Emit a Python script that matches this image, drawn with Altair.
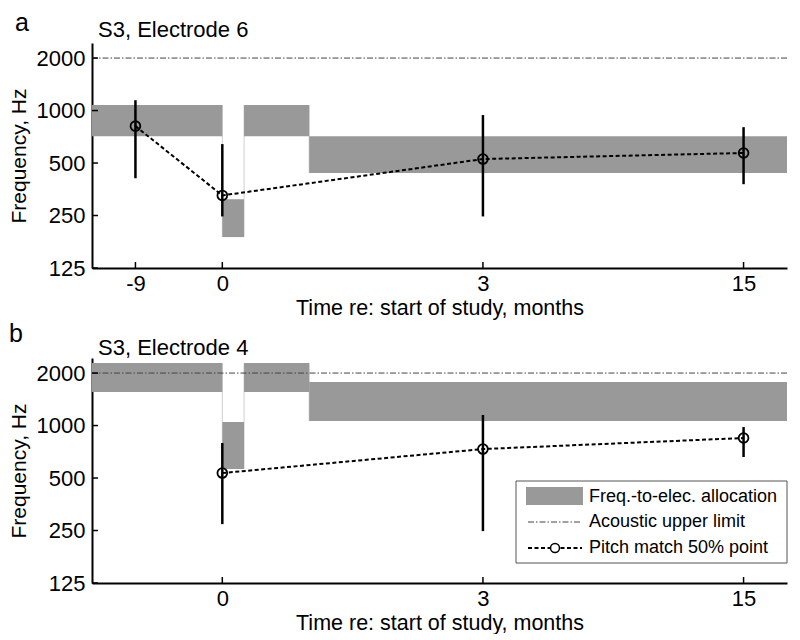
import altair as alt
import pandas as pd

# ---------------- data ----------------
# visits (months re: start of study) and the slot each one occupies on the x axis
visit_months = [-9, 0, 3, 15]
visit_slots = [0, 1, 4, 7]
x_domain = [-0.5, 7.5]
y_domain = [125, 2440]
y_ticks = [125, 250, 500, 1000, 2000]

# frequency-to-electrode allocation segments (x in slot units)
seg_start = [-0.5, 1.0, 1.25, 2.0]
seg_end = [1.0, 1.25, 2.0, 7.5]
a_alloc_lo = [713, 188, 713, 438]
a_alloc_hi = [1076, 310, 1076, 713]
b_alloc_lo = [1556, 563, 1556, 1061]
b_alloc_hi = [2282, 1047, 2282, 1775]

acoustic_limit = 2000

# pitch match 50% points with ranges
a_months = [-9, 0, 3, 15]
a_pitch = [814, 326, 527, 571]
a_err_lo = [409, 247, 247, 378]
a_err_hi = [1146, 642, 942, 803]

b_months = [0, 3, 15]
b_pitch = [534, 733, 848]
b_err_lo = [272, 248, 660]
b_err_hi = [794, 1149, 980]

legend_labels = ["Freq.-to-elec. allocation", "Acoustic upper limit", "Pitch match 50% point"]

# ---------------- style ----------------
W, H = 695, 225
GRAY = "#999999"
FONT = "Liberation Sans"
slot_of = dict(zip(visit_months, visit_slots))


def panel(letter, title, lo, hi, months, pitch, elo, ehi, tick_months, legend,
          letter_xy, title_xy):
    xs = alt.Scale(domain=x_domain, nice=False, zero=False)
    ys = alt.Scale(type="log", domain=y_domain, nice=False)
    tick_slots = [slot_of[m] for m in tick_months]
    label_expr = " : ".join(
        f"datum.value == {slot_of[m]} ? '{m}'" for m in tick_months) + " : ''"
    xaxis = alt.Axis(values=tick_slots, labelExpr=label_expr,
                     title="Time re: start of study, months",
                     grid=False, ticks=False, tickSize=0, domainWidth=2,
                     domainColor="black", labelPadding=5, titlePadding=3,
                     labelFontSize=22, titleFontSize=21.5, labelFlush=False,
                     labelOverlap=False)
    yaxis = alt.Axis(values=y_ticks, format="d", title="Frequency, Hz",
                     grid=False, ticks=False, tickSize=0, domainWidth=2,
                     domainColor="black", labelPadding=7, titlePadding=7,
                     labelFontSize=22, titleFontSize=21, labelOverlap=False)

    def X(f):
        return alt.X(f, type="quantitative", scale=xs, axis=xaxis)

    def Y(f):
        return alt.Y(f, type="quantitative", scale=ys, axis=yaxis)

    segdf = pd.DataFrame({"x": seg_start, "x2": seg_end, "lo": lo, "hi": hi})
    conn = pd.DataFrame({
        "x": seg_end[:-1],
        "lo": [min(lo[i], lo[i + 1]) for i in range(len(lo) - 1)],
        "hi": [max(hi[i], hi[i + 1]) for i in range(len(hi) - 1)],
    })
    pdf = pd.DataFrame({"slot": [slot_of[m] for m in months], "f": pitch,
                        "lo": elo, "hi": ehi})

    layers = [
        alt.Chart(conn).mark_rule(color="#cfcfcf", strokeWidth=1).encode(
            x=X("x"), y=Y("lo"), y2="hi"),
        alt.Chart(segdf).mark_rect(color=GRAY).encode(
            x=X("x"), x2="x2", y=Y("lo"), y2="hi"),
        alt.Chart(pd.DataFrame({"f": [acoustic_limit]})).mark_rule(
            color="#444444", strokeWidth=1, strokeDash=[6, 2, 1.5, 2]).encode(y=Y("f")),
        alt.Chart(pdf).mark_line(color="black", strokeWidth=2,
                                 strokeDash=[4, 2.5]).encode(x=X("slot"), y=Y("f")),
        alt.Chart(pdf).mark_rule(color="black", strokeWidth=2.5).encode(
            x=X("slot"), y=Y("lo"), y2="hi"),
        alt.Chart(pdf).mark_point(shape="circle", filled=False, color="black",
                                  size=95, strokeWidth=1.8, opacity=1).encode(
            x=X("slot"), y=Y("f")),
        alt.Chart(pd.DataFrame({"slot": tick_slots})).mark_rule(
            color="black", strokeWidth=1.5).encode(
            x=X("slot"), y=alt.value(H), y2=alt.value(H - 6)),
        alt.Chart(pd.DataFrame({"f": y_ticks})).mark_rule(
            color="black", strokeWidth=1.5).encode(
            y=Y("f"), x=alt.value(0), x2=alt.value(6)),
        alt.Chart(pd.DataFrame({"t": [letter]})).mark_text(
            align="left", baseline="alphabetic", fontSize=25, color="black").encode(
            text="t:N", x=alt.value(letter_xy[0]), y=alt.value(letter_xy[1])),
        alt.Chart(pd.DataFrame({"t": [title]})).mark_text(
            align="left", baseline="alphabetic", fontSize=22, color="black").encode(
            text="t:N", x=alt.value(title_xy[0]), y=alt.value(title_xy[1])),
    ]

    if legend:
        one = pd.DataFrame({"k": [0]})
        bx0, bx1, by0, by1 = W - 271, W, H - 102, H - 20
        layers += [
            alt.Chart(one).mark_rect(fill="white", stroke="#555555", strokeWidth=1).encode(
                x=alt.value(bx0), x2=alt.value(bx1), y=alt.value(by0), y2=alt.value(by1)),
            alt.Chart(one).mark_rect(fill=GRAY).encode(
                x=alt.value(bx0 + 10), x2=alt.value(bx0 + 67),
                y=alt.value(by0 + 6), y2=alt.value(by0 + 24)),
            alt.Chart(one).mark_rule(color="#444444", strokeWidth=1,
                                     strokeDash=[6, 2, 1.5, 2]).encode(
                x=alt.value(bx0 + 12), x2=alt.value(bx0 + 66), y=alt.value(by0 + 41)),
            alt.Chart(one).mark_rule(color="black", strokeWidth=1.8,
                                     strokeDash=[4, 2.5]).encode(
                x=alt.value(bx0 + 12), x2=alt.value(bx0 + 66), y=alt.value(by0 + 67)),
            alt.Chart(one).mark_point(shape="circle", filled=True, fill="white",
                                      stroke="black", size=80, strokeWidth=1.5,
                                      opacity=1).encode(
                x=alt.value(bx0 + 39), y=alt.value(by0 + 67)),
        ]
        for lab, dy in zip(legend_labels, [16, 41, 67]):
            layers.append(
                alt.Chart(pd.DataFrame({"t": [lab]})).mark_text(
                    align="left", baseline="middle", fontSize=18, color="black").encode(
                    text="t:N", x=alt.value(bx0 + 73), y=alt.value(by0 + dy)))

    return alt.layer(*layers).properties(width=W, height=H)


pa = panel("a", "S3, Electrode 6", a_alloc_lo, a_alloc_hi, a_months, a_pitch,
           a_err_lo, a_err_hi, [-9, 0, 3, 15], False, (-77, -12), (6, -6))
pb = panel("b", "S3, Electrode 4", b_alloc_lo, b_alloc_hi, b_months, b_pitch,
           b_err_lo, b_err_hi, [0, 3, 15], True, (-83, -16), (6, -3))

chart = alt.vconcat(pa, pb, spacing=90, bounds="flush").properties(
    padding={"top": 3, "left": 0, "right": 0, "bottom": 0}, background="white"
).configure(font=FONT).configure_view(strokeWidth=0).configure_axis(
    labelColor="black", titleColor="black", titleFontWeight="normal",
    labelFont=FONT, titleFont=FONT
)

chart.save("out.html", embed_options={"renderer": "svg", "actions": False})
